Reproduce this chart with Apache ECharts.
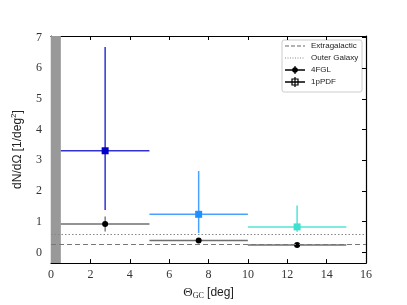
<!DOCTYPE html>
<html>
<head>
<meta charset="utf-8">
<script src="https://cdn.jsdelivr.net/npm/echarts@6/dist/echarts.min.js"></script>
<style>html,body{margin:0;padding:0;background:#fff}#c{width:407px;height:305px}</style>
</head>
<body>
<div id="c"></div>
<script>
const binCenters = [2.75, 7.5, 12.5];
const binLow = [0.5, 5, 10];
const binHigh = [5, 10, 15];
const pdfValues = [3.31, 1.24, 0.83];
const pdfErrLow = [1.38, 0.63, 0.67];
const pdfErrHigh = [6.69, 2.65, 1.53];
const fglValues = [0.92, 0.39, 0.24];
const fglErrLow = [0.68, 0.35, 0.21];
const fglErrHigh = [1.17, 0.43, 0.27];
const extragalactic = 0.27;
const outerGalaxy = 0.6;
const maskedRegion = [0, 0.5];
const xTicks = [0, 2, 4, 6, 8, 10, 12, 14, 16];
const yTicks = [0, 1, 2, 3, 4, 5, 6, 7];
const pdfColors = ['#1c1ccc', '#3399ff', '#40e0d0'];
const pdfMarkerColors = ['#0000c8', '#2090ff', '#40e0d0'];

const serif = 'Liberation Serif';
const sans = 'Liberation Sans';

function errData(vals, lo, hi) {
  return binCenters.map((c, i) => [c, vals[i], binLow[i], binHigh[i], lo[i], hi[i], i]);
}

function makeRender(kind) {
  return function (params, api) {
    const xc = api.value(0), y = api.value(1);
    const x0 = api.value(2), x1 = api.value(3);
    const y0 = api.value(4), y1 = api.value(5);
    const idx = api.value(6);
    const pc = api.coord([xc, y]);
    const pl = api.coord([x0, y]);
    const pr = api.coord([x1, y]);
    const pb = api.coord([xc, y0]);
    const pt = api.coord([xc, y1]);
    const children = [];
    if (kind === 'pdf') {
      const col = pdfColors[idx];
      children.push({type: 'line', shape: {x1: pl[0], y1: pl[1], x2: pr[0], y2: pr[1]}, style: {stroke: col, lineWidth: 1.5, opacity: 0.9}});
      children.push({type: 'line', shape: {x1: pb[0], y1: pb[1], x2: pt[0], y2: pt[1]}, style: {stroke: col, lineWidth: 1.5, opacity: 0.9}});
      children.push({type: 'rect', shape: {x: pc[0] - 3.5, y: pc[1] - 3.5, width: 7, height: 7}, style: {fill: pdfMarkerColors[idx]}});
    } else {
      children.push({type: 'line', shape: {x1: pl[0], y1: pl[1], x2: pr[0], y2: pr[1]}, style: {stroke: '#555', lineWidth: 1.5, opacity: 0.85}});
      children.push({type: 'line', shape: {x1: pb[0], y1: pb[1], x2: pt[0], y2: pt[1]}, style: {stroke: '#444', lineWidth: 1.2, opacity: 0.85}});
      children.push({type: 'circle', shape: {cx: pc[0], cy: pc[1], r: 3}, style: {fill: '#000'}});
    }
    return {type: 'group', children: children};
  };
}

const axisLine = {show: true, onZero: false, lineStyle: {color: '#000', width: 1.2}};
const tick = (vals) => ({show: true, inside: true, length: 4, lineStyle: {color: '#000', width: 1}, customValues: vals});

const chart = echarts.init(document.getElementById('c'), null, {renderer: 'canvas'});
const lx = 285, ly = 46, dy = 12;
chart.setOption({
  animation: false,
  grid: {left: 51, right: 41, top: 36, bottom: 34},
  xAxis: [{
    type: 'value', min: 0, max: 16, position: 'bottom',
    axisLine: axisLine, axisTick: tick(xTicks), splitLine: {show: false},
    axisLabel: {customValues: xTicks, fontFamily: serif, fontSize: 12, color: '#333', margin: 6},
    name: '{t|Θ}{s|GC} {d|[deg]}', nameLocation: 'middle', nameGap: 21,
    nameTextStyle: {rich: {
      t: {fontFamily: serif, fontSize: 13, color: '#222'},
      s: {fontFamily: serif, fontSize: 8, color: '#222', verticalAlign: 'bottom', padding: [7, 0, 0, 0]},
      d: {fontFamily: sans, fontSize: 12, color: '#222'}
    }}
  }, {
    type: 'value', min: 0, max: 16, position: 'top',
    axisLine: axisLine, axisTick: tick(xTicks), axisLabel: {show: false}, splitLine: {show: false}
  }],
  yAxis: [{
    type: 'value', min: -0.35, max: 7.05, position: 'left',
    axisLine: axisLine, axisTick: tick(yTicks), splitLine: {show: false},
    axisLabel: {customValues: yTicks, fontFamily: serif, fontSize: 12, color: '#333', margin: 9},
    name: 'dN/dΩ [1/deg{sup|2}]', nameLocation: 'middle', nameGap: 26, nameRotate: 90,
    nameTextStyle: {fontFamily: sans, fontSize: 12, color: '#222', rich: {sup: {fontFamily: sans, fontSize: 8, color: '#222', verticalAlign: 'top', padding: [0, 0, 7, 0]}}}
  }, {
    type: 'value', min: -0.35, max: 7.05, position: 'right',
    axisLine: axisLine, axisTick: tick(yTicks), axisLabel: {show: false}, splitLine: {show: false}
  }],
  series: [{
    type: 'line', data: [], silent: true,
    markArea: {silent: true, itemStyle: {color: '#999999', opacity: 1}, data: [[{xAxis: maskedRegion[0]}, {xAxis: maskedRegion[1]}]]},
    markLine: {silent: true, symbol: 'none', label: {show: false}, data: [
      {yAxis: extragalactic, lineStyle: {color: '#777', type: [5, 3], width: 1.2}},
      {yAxis: outerGalaxy, lineStyle: {color: '#888', type: [1.5, 2], width: 1.2}}
    ]}
  }, {
    type: 'custom', name: '4FGL', renderItem: makeRender('fgl'), data: errData(fglValues, fglErrLow, fglErrHigh), z: 3
  }, {
    type: 'custom', name: '1pPDF', renderItem: makeRender('pdf'), data: errData(pdfValues, pdfErrLow, pdfErrHigh), z: 4
  }],
  graphic: [{
    type: 'group', z: 100, children: [
      {type: 'rect', shape: {x: 282, y: 40, width: 80, height: 52, r: 2}, style: {fill: '#fff', stroke: '#ccc', lineWidth: 1}},
      {type: 'line', shape: {x1: lx, y1: ly, x2: lx + 20, y2: ly}, style: {stroke: '#666', lineWidth: 1.2, lineDash: [4, 2]}},
      {type: 'text', x: 311, y: ly, style: {text: 'Extragalactic', font: '8px ' + sans, fill: '#222', verticalAlign: 'middle'}},
      {type: 'line', shape: {x1: lx, y1: ly + dy, x2: lx + 20, y2: ly + dy}, style: {stroke: '#888', lineWidth: 1, lineDash: [1, 1.5]}},
      {type: 'text', x: 311, y: ly + dy, style: {text: 'Outer Galaxy', font: '8px ' + sans, fill: '#222', verticalAlign: 'middle'}},
      {type: 'line', shape: {x1: lx, y1: ly + 2 * dy, x2: lx + 20, y2: ly + 2 * dy}, style: {stroke: '#000', lineWidth: 1.5}},
      {type: 'line', shape: {x1: lx + 10, y1: ly + 2 * dy - 4, x2: lx + 10, y2: ly + 2 * dy + 4}, style: {stroke: '#000', lineWidth: 1.2}},
      {type: 'circle', shape: {cx: lx + 10, cy: ly + 2 * dy, r: 2.8}, style: {fill: '#000'}},
      {type: 'text', x: 311, y: ly + 2 * dy, style: {text: '4FGL', font: '8px ' + sans, fill: '#222', verticalAlign: 'middle'}},
      {type: 'line', shape: {x1: lx, y1: ly + 3 * dy, x2: lx + 20, y2: ly + 3 * dy}, style: {stroke: '#000', lineWidth: 1.5}},
      {type: 'line', shape: {x1: lx + 10, y1: ly + 3 * dy - 5, x2: lx + 10, y2: ly + 3 * dy + 5}, style: {stroke: '#000', lineWidth: 1.2}},
      {type: 'rect', shape: {x: lx + 7, y: ly + 3 * dy - 3, width: 6, height: 6}, style: {fill: 'none', stroke: '#000', lineWidth: 1.2}},
      {type: 'text', x: 311, y: ly + 3 * dy, style: {text: '1pPDF', font: '8px ' + sans, fill: '#222', verticalAlign: 'middle'}}
    ]
  }]
});
</script>
</body>
</html>
